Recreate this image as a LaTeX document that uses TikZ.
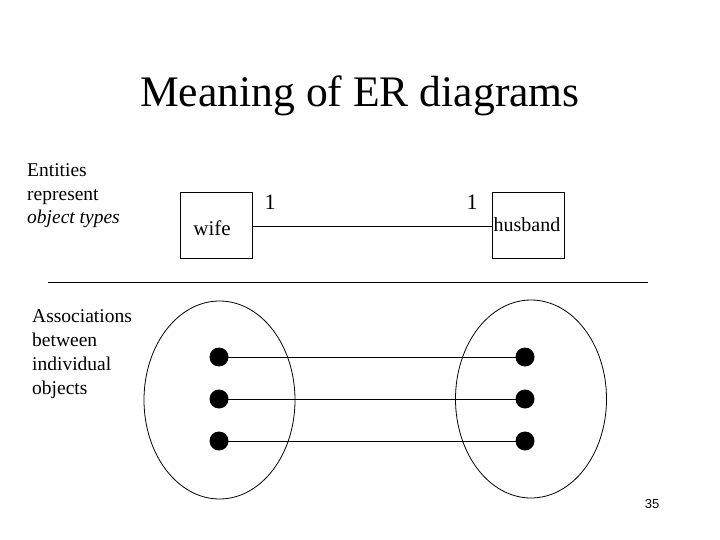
\documentclass[tikz,border=0pt]{standalone}
\usepackage{fontspec}
\setmainfont{Liberation Serif}
\newfontfamily\numfont{Liberation Sans}
\usetikzlibrary{shapes.geometric}
\begin{document}
\begin{tikzpicture}[x=1pt,y=-1pt,
  entity/.style={draw,line width=0.9pt,minimum width=72pt,minimum height=66pt,inner sep=0pt},
  setell/.style={draw,ellipse,line width=0.8pt,minimum width=151pt,minimum height=198pt,inner sep=0pt},
  obj/.style={circle,fill=black,minimum size=19pt,inner sep=0pt},
  lab/.style={anchor=base west,inner sep=0pt,font=\fontsize{19.5}{23}\selectfont},
  ln/.style={line width=0.9pt}]
\useasboundingbox (0,0) rectangle (720,540);
\node[inner sep=0pt,font=\fontsize{43.6}{50}\selectfont] (title) at (360,96) {Meaning of ER diagrams};
% left texts
\node[lab] (t1) at (27,177) {Entities};
\node[lab] (t2) at (27,201) {represent};
\node[lab] (t3) at (27,224) {\itshape object types};
\node[lab] (a1) at (32,322) {Associations};
\node[lab] (a2) at (32,346) {between};
\node[lab] (a3) at (32,370) {individual};
\node[lab] (a4) at (32,394) {objects};
% entities
\node[entity] (wife) at (216,225) {};
\node[anchor=base,inner sep=0pt,font=\fontsize{21}{24}\selectfont] (wifet) at (212,236) {wife};
\node[entity] (husband) at (528,225) {};
\node[anchor=base,inner sep=0pt,font=\fontsize{20}{24}\selectfont] (husbandt) at (527,232) {husband};
\draw[ln] (wife.east |- 0,226) coordinate (wl) -- (husband.west |- 0,226) coordinate (hl);
\node[anchor=base,inner sep=0pt,font=\fontsize{22}{26}\selectfont] (c1) at (270,210) {1};
\node[anchor=base,inner sep=0pt,font=\fontsize{22}{26}\selectfont] (c2) at (472,210) {1};
% divider
\coordinate (d1) at (48,282);
\coordinate (d2) at (648,282);
\draw[ln] (d1) -- (d2);
% sets
\node[setell] (lset) at (219.5,400) {};
\node[setell] (rset) at (531,399) {};
\foreach \i/\y in {1/357,2/399,3/441}{
  \node[obj] (l\i) at (219,\y) {};
  \node[obj] (r\i) at (525,\y) {};
  \draw[ln] (l\i.center) -- (r\i.center);
}
\node[anchor=base,inner sep=0pt,font=\numfont\fontsize{13}{15}\selectfont] (pg) at (652,508) {35};
\end{tikzpicture}
\end{document}
